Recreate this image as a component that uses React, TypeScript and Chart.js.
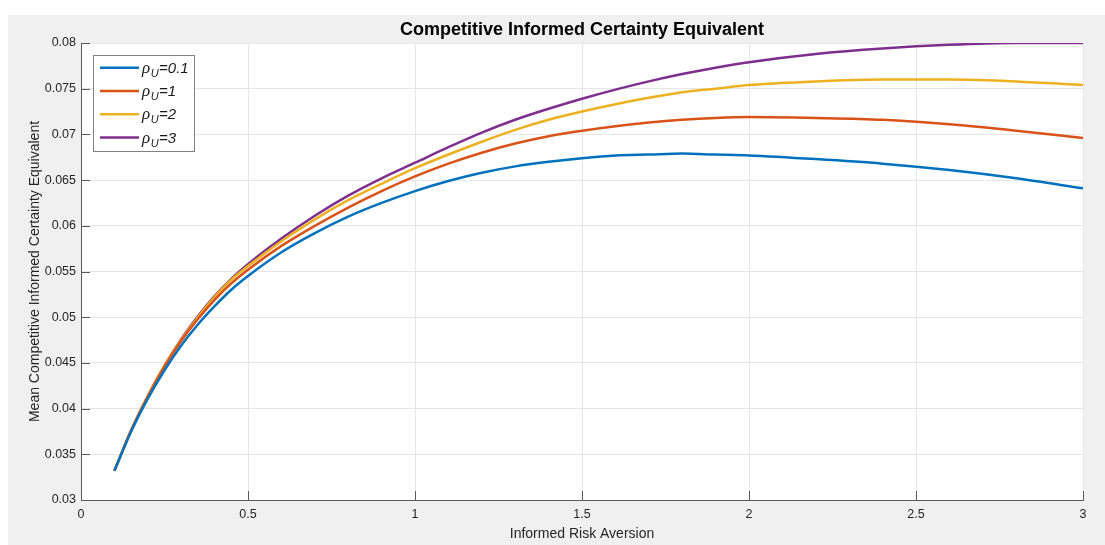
import React, { useEffect, useRef } from "react";
import { Chart, registerables } from "chart.js";

Chart.register(...registerables);

const xValues = [0.1, 0.15, 0.2, 0.25, 0.3, 0.35, 0.4, 0.45, 0.5, 0.6, 0.7, 0.8, 0.9, 1.0, 1.1, 1.2, 1.3, 1.4, 1.5, 1.6, 1.7, 1.8, 1.9, 2.0, 2.2, 2.4, 2.6, 2.8, 3.0];

const rho01 = [0.0332, 0.0375, 0.0411, 0.0442, 0.0469, 0.0492, 0.0512, 0.0530, 0.0545, 0.0571, 0.0592, 0.061, 0.0625, 0.0638, 0.0649, 0.0658, 0.0665, 0.067, 0.0674, 0.0677, 0.0678, 0.0679, 0.0678, 0.0677, 0.0673, 0.0668, 0.0661, 0.0652, 0.0641];
const rho1 = [0.0332, 0.0376, 0.0413, 0.0446, 0.0474, 0.0498, 0.0519, 0.0537, 0.0552, 0.0578, 0.06, 0.062, 0.0638, 0.0654, 0.0668, 0.068, 0.069, 0.0698, 0.0704, 0.0709, 0.0713, 0.0716, 0.0718, 0.0719, 0.0718, 0.0716, 0.0711, 0.0704, 0.0696];
const rho2 = [0.0332, 0.0376, 0.0414, 0.0447, 0.0475, 0.05, 0.0522, 0.0541, 0.0556, 0.0583, 0.0607, 0.0628, 0.0646, 0.0663, 0.0678, 0.0692, 0.0705, 0.0716, 0.0725, 0.0733, 0.074, 0.0746, 0.075, 0.0754, 0.0758, 0.076, 0.076, 0.0758, 0.0754];
const rho3 = [0.0332, 0.0376, 0.0414, 0.0447, 0.0476, 0.0501, 0.0523, 0.0542, 0.0558, 0.0586, 0.0611, 0.0633, 0.0652, 0.0669, 0.0686, 0.0702, 0.0716, 0.0728, 0.0739, 0.0749, 0.0758, 0.0766, 0.0773, 0.0779, 0.0788, 0.0794, 0.0798, 0.08, 0.08];

const rhoLabels = ["0.1", "1", "2", "3"];
const seriesColors = ["#0072BD", "#D95319", "#EDB120", "#7E2F8E"];

const xTicks = [0, 0.5, 1, 1.5, 2, 2.5, 3];
const xTickLabels = ["0", "0.5", "1", "1.5", "2", "2.5", "3"];
const yTicks = [0.03, 0.035, 0.04, 0.045, 0.05, 0.055, 0.06, 0.065, 0.07, 0.075, 0.08];
const yTickLabels = ["0.03", "0.035", "0.04", "0.045", "0.05", "0.055", "0.06", "0.065", "0.07", "0.075", "0.08"];

const titleText = "Competitive Informed Certainty Equivalent";
const xTitle = "Informed Risk Aversion";
const yTitle = "Mean Competitive Informed Certainty Equivalent";

const FONT = "'Liberation Sans', Arial, Helvetica, sans-serif";

export default function App() {
  const ref = useRef<HTMLCanvasElement | null>(null);

  useEffect(() => {
    const canvas = ref.current;
    if (!canvas) return;
    const allSeries = [rho01, rho1, rho2, rho3];

    const bgPlugin = {
      id: "matlabBg",
      beforeDraw(chart: any) {
        const ctx = chart.ctx;
        const a = chart.chartArea;
        ctx.save();
        ctx.fillStyle = "#ffffff";
        ctx.fillRect(0, 0, chart.width, chart.height);
        ctx.fillStyle = "#f0f0f0";
        ctx.fillRect(8, 15, chart.width - 8, chart.height - 15);
        ctx.fillStyle = "#ffffff";
        ctx.fillRect(a.left, a.top, a.right - a.left, a.bottom - a.top);
        ctx.restore();
      },
      afterDraw(chart: any) {
        const ctx = chart.ctx;
        const a = chart.chartArea;
        const xs = chart.scales.x;
        const ys = chart.scales.y;
        ctx.save();
        // title
        ctx.fillStyle = "#000000";
        ctx.font = "bold 18px " + FONT;
        ctx.textAlign = "center";
        ctx.textBaseline = "middle";
        ctx.fillText(titleText, (a.left + a.right) / 2, 30);

        // inward ticks
        ctx.strokeStyle = "#5a5a5a";
        ctx.lineWidth = 1;
        ctx.beginPath();
        xTicks.forEach((t) => {
          const px = Math.round(xs.getPixelForValue(t)) + 0.5;
          ctx.moveTo(px, a.bottom);
          ctx.lineTo(px, a.bottom - 9);
        });
        yTicks.forEach((t) => {
          const py = Math.round(ys.getPixelForValue(t)) + 0.5;
          ctx.moveTo(a.left, py);
          ctx.lineTo(a.left + 9, py);
        });
        ctx.stroke();

        // legend
        const bx = 93.5, by = 55.5, bw = 101, bh = 96;
        ctx.fillStyle = "#ffffff";
        ctx.fillRect(bx, by, bw, bh);
        ctx.strokeStyle = "#808080";
        ctx.lineWidth = 1;
        ctx.strokeRect(bx, by, bw, bh);
        chart.data.datasets.forEach((ds: any, i: number) => {
          const cy = 67.7 + i * 23.3;
          ctx.strokeStyle = ds.borderColor;
          ctx.lineWidth = 2.5;
          ctx.beginPath();
          ctx.moveTo(100, cy);
          ctx.lineTo(139, cy);
          ctx.stroke();
          ctx.fillStyle = "#1a1a1a";
          ctx.textBaseline = "alphabetic";
          ctx.textAlign = "left";
          let x = 142;
          const base = cy + 5;
          ctx.font = "italic 17px 'Liberation Serif', serif";
          ctx.fillText("ρ", x, base);
          x += ctx.measureText("ρ").width + 0.5;
          ctx.font = "italic 11px " + FONT;
          ctx.fillText("U", x, base + 4);
          x += ctx.measureText("U").width + 0.5;
          ctx.font = "italic 15px " + FONT;
          ctx.fillText("=" + rhoLabels[i], x, base);
        });
        ctx.restore();
      },
    };

    const chart = new Chart(canvas, {
      type: "line",
      data: {
        datasets: allSeries.map((s, i) => ({
          label: "ρU=" + rhoLabels[i],
          data: xValues.map((x, j) => ({ x, y: s[j] })),
          borderColor: seriesColors[i],
          backgroundColor: seriesColors[i],
          borderWidth: 2.5,
          pointRadius: 0,
          cubicInterpolationMode: "monotone" as const,
          fill: false,
        })),
      },
      options: {
        animation: false,
        responsive: false,
        maintainAspectRatio: false,
        layout: { padding: { left: 0, right: 22, top: 43, bottom: 0 } },
        plugins: {
          legend: { display: false },
          tooltip: { enabled: false },
          title: { display: false },
        },
        scales: {
          x: {
            type: "linear",
            min: 0,
            max: 3,
            afterBuildTicks: (scale: any) => {
              scale.ticks = xTicks.map((v) => ({ value: v }));
            },
            afterFit: (scale: any) => {
              scale.height = 45;
            },
            ticks: {
              callback: (v: any) => xTickLabels[xTicks.indexOf(Number(v))] ?? "",
              color: "#262626",
              font: { family: FONT, size: 12.5 },
              padding: 7,
              maxRotation: 0,
              autoSkip: false,
            },
            grid: { color: "#e6e6e6", drawTicks: false, lineWidth: 1 },
            border: { color: "#5a5a5a", width: 1 },
            title: {
              display: true,
              text: xTitle,
              color: "#262626",
              font: { family: FONT, size: 14 },
              padding: { top: 0, bottom: 2 },
            },
          },
          y: {
            type: "linear",
            min: 0.03,
            max: 0.08,
            afterBuildTicks: (scale: any) => {
              scale.ticks = yTicks.map((v) => ({ value: v }));
            },
            afterFit: (scale: any) => {
              scale.width = 81;
            },
            ticks: {
              callback: (v: any) => {
                const idx = yTicks.findIndex((t) => Math.abs(t - Number(v)) < 1e-9);
                return idx >= 0 ? yTickLabels[idx] : "";
              },
              color: "#262626",
              font: { family: FONT, size: 12.5 },
              padding: 5,
              autoSkip: false,
            },
            grid: { color: "#e6e6e6", drawTicks: false, lineWidth: 1 },
            border: { color: "#5a5a5a", width: 1 },
            title: {
              display: true,
              text: yTitle,
              color: "#262626",
              font: { family: FONT, size: 14 },
              padding: { top: 27, bottom: 0 },
            },
          },
        },
      },
      plugins: [bgPlugin],
    } as any);

    return () => chart.destroy();
  }, []);

  return (
    <div style={{ position: "fixed", left: 0, top: 0, width: 1105, height: 545, background: "#ffffff" }}>
      <canvas ref={ref} width={1105} height={545} style={{ display: "block", width: 1105, height: 545 }} />
    </div>
  );
}
